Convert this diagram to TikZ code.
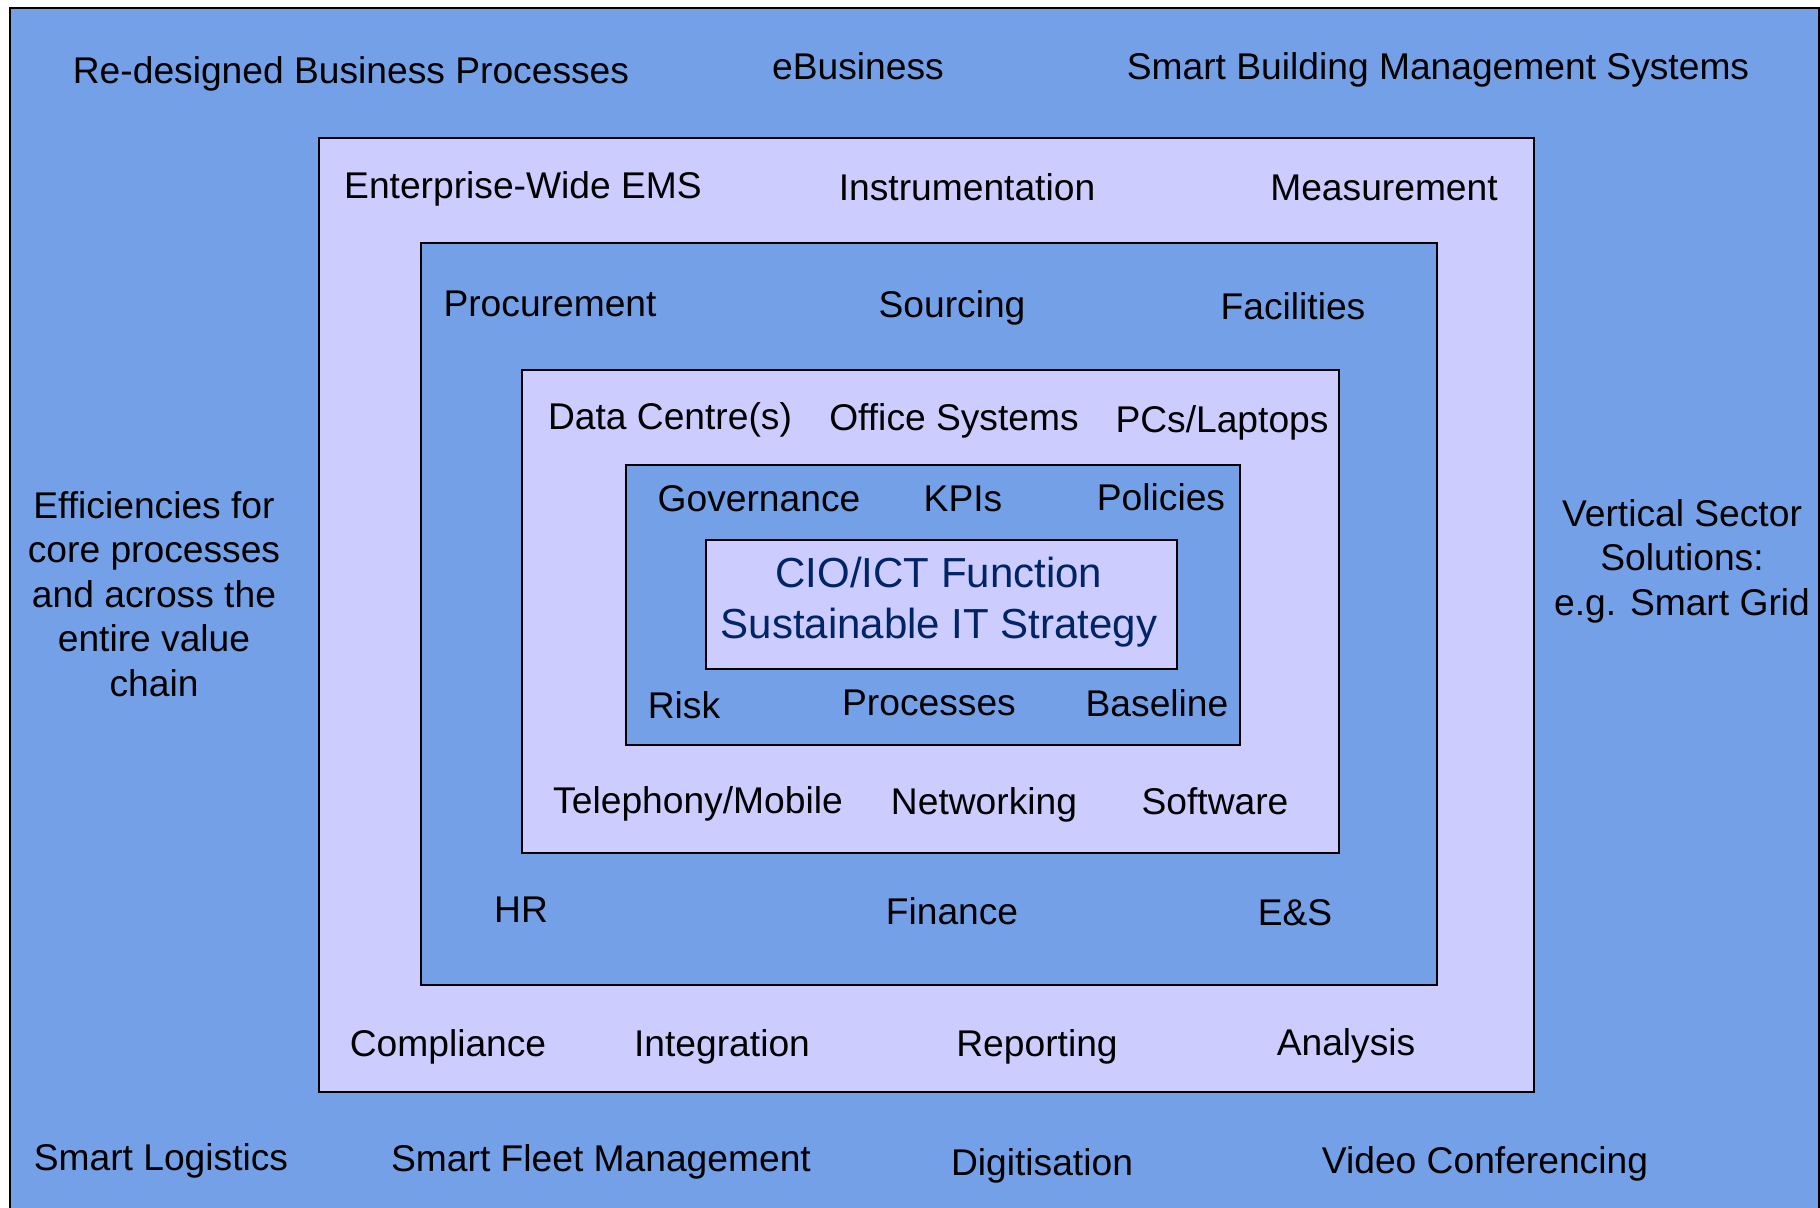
\documentclass[tikz,border=0pt]{standalone}
\usepackage{fontspec}
\setmainfont{Liberation Sans}
\definecolor{outerblue}{RGB}{115,160,230}
\definecolor{lav}{RGB}{204,204,255}
\definecolor{navy}{RGB}{0,36,100}
\begin{document}
\begin{tikzpicture}[x=0.5pt,y=-0.5pt,
  box/.style={draw=black,line width=1pt},
  lbl/.style={font=\fontsize{18.6}{22}\selectfont,text=black,inner sep=0pt,anchor=base,yshift=-0.6pt},
  ml/.style={font=\fontsize{18.6}{22.3}\selectfont,text=black,inner sep=0pt,align=center}]
\useasboundingbox (0,0) rectangle (1820,1208);
\clip (0,0) rectangle (1820,1208);
% boxes
\fill[white] (0,0) rectangle (1820,1208);
\draw[box,fill=outerblue] (10,8) rectangle (1819,1230);
\draw[box,fill=lav] (319,138) rectangle (1534,1092);
\draw[box,fill=outerblue] (421,243) rectangle (1437,985);
\draw[box,fill=lav] (522,370) rectangle (1339,853);
\draw[box,fill=outerblue] (626,465) rectangle (1240,745);
\draw[box,fill=lav] (706,540) rectangle (1177,669);
% outer ring labels
\node[lbl] (rbp) at (351,82) {Re-designed Business Processes};
\node[lbl] (ebus) at (858,78) {eBusiness};
\node[lbl] (sbms) at (1438,78) {Smart Building Management Systems};
\node[ml] (eff) at (154,594) {Efficiencies for\\core processes\\and across the\\entire value\\chain};
\node[ml] (vss) at (1682,561) {Vertical Sector\\Solutions:\\e.g. Smart Grid};
\node[lbl] (slog) at (161,1169) {Smart Logistics};
\node[lbl] (sfm) at (601,1170) {Smart Fleet Management};
\node[lbl] (dig) at (1042,1174) {Digitisation};
\node[lbl] (vc) at (1485,1172) {Video Conferencing};
% ring 2
\node[lbl] (ems) at (523,197) {Enterprise-Wide EMS};
\node[lbl] (instr) at (967,199) {Instrumentation};
\node[lbl] (meas) at (1384,199) {Measurement};
\node[lbl] (comp) at (448,1055) {Compliance};
\node[lbl] (integ) at (722,1055) {Integration};
\node[lbl] (rep) at (1037,1055) {Reporting};
\node[lbl] (anal) at (1346,1054) {Analysis};
% ring 3
\node[lbl] (proc) at (550,315) {Procurement};
\node[lbl] (src) at (952,316) {Sourcing};
\node[lbl] (fac) at (1293,318) {Facilities};
\node[lbl] (hr) at (521,921) {HR};
\node[lbl] (fin) at (952,923) {Finance};
\node[lbl] (es) at (1295,924) {E\&S};
% ring 4
\node[lbl] (dc) at (670,428) {Data Centre(s)};
\node[lbl] (os) at (954,429) {Office Systems};
\node[lbl] (pcs) at (1222,431) {PCs/Laptops};
\node[lbl] (tel) at (698,812) {Telephony/Mobile};
\node[lbl] (net) at (984,813) {Networking};
\node[lbl] (sw) at (1215,813) {Software};
% ring 5
\node[lbl] (gov) at (759,510) {Governance};
\node[lbl] (kpi) at (963,510) {KPIs};
\node[lbl] (pol) at (1161,509) {Policies};
\node[lbl] (risk) at (684,717) {Risk};
\node[lbl] (prcs) at (929,714) {Processes};
\node[lbl] (base) at (1157,715) {Baseline};
% centre
\node[font=\fontsize{21}{25.5}\selectfont,text=navy,align=center,inner sep=0pt] (cio) at (939,602) {CIO/ICT Function\\Sustainable IT Strategy};
\end{tikzpicture}
\end{document}
